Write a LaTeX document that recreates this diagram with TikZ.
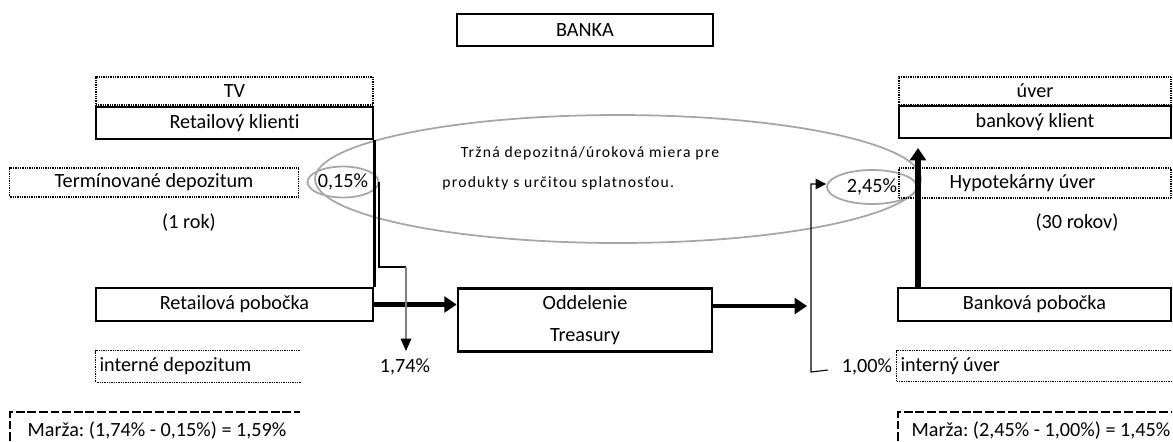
\documentclass[tikz,border=0pt]{standalone}
\usepackage{fontspec}
\setmainfont{Carlito}[Ligatures=NoCommon]
\frenchspacing
\usetikzlibrary{shapes.geometric, arrows.meta, positioning, calc}
\definecolor{ringgray}{HTML}{A6A6A6}
\definecolor{linegray}{HTML}{808080}

\tikzset{
  box/.style={draw, line width=1.6pt, minimum width=5.54cm, minimum height=0.64cm, inner sep=0pt, font=\fontsize{11.5}{11.5}\selectfont},
  dotbox/.style={draw, line width=0.7pt, dash pattern=on 0.5pt off 0.5pt, minimum width=5.54cm, minimum height=0.58cm, inner sep=0pt, font=\fontsize{11.5}{11.5}\selectfont},
  plain/.style={inner sep=0pt, font=\fontsize{11.5}{11.5}\selectfont},
  ring/.style={draw=ringgray, line width=1pt, ellipse, inner sep=0pt},
  flow/.style={line width=2.8pt, -{Triangle[length=7pt, width=9pt]}},
  thin/.style={line width=0.6pt},
  note/.style={inner sep=0pt, font=\fontsize{8.9}{8.9}\selectfont\addfontfeature{LetterSpace=8}},
}

\begin{document}
\begin{tikzpicture}[x=0.02cm, y=-0.02cm]
  \useasboundingbox (0,0) rectangle (1173,441);

  % Top: bank
  \node[box, line width=1.2pt, minimum width=5.12cm] (banka) at (585,30) {BANKA};

  % Left column: retail client side
  \node[dotbox, minimum height=0.56cm] (tv) at (234.5,91) {TV};
  \node[box] (retailklient) at (234.5,123) {Retailový klienti};
  \node[dotbox, minimum width=5.78cm] (termdep) at (154,182.5) {Termínované depozitum};
  \node[plain] (rok) at (189,222) {(1 rok)};
  \node[box, minimum height=0.66cm] (retailpob) at (234.5,304.5) {Retailová pobočka};
  \node[plain, minimum width=4.08cm, minimum height=0.62cm] (intdep) at (198,366.5) {};
  \node[plain, anchor=west] (intdeptext) at ([xshift=2pt]intdep.west) {interné depozitum};
  \draw[thin, dash pattern=on 0.5pt off 0.5pt] (intdep.north east) -- (intdep.north west) -- (intdep.south west) -- (intdep.south east);

  % Center: treasury
  \node[box, minimum width=5.08cm, minimum height=1.26cm, align=center] (treasury) at (585,320) {Oddelenie\\[7pt]Treasury};

  % Market rate ellipse
  \node[ring, minimum width=12.12cm, minimum height=2.56cm] (trh) at (618,179) {};
  \node[note] (trhtext) at (590,153) {Tržná depozitná/úroková miera pre};
  \node[note, anchor=west] (trhtext2) at (442,183) {produkty s určitou splatnosťou.};
  \node[ring, minimum width=1.08cm, minimum height=0.62cm, font=\fontsize{11.5}{11.5}\selectfont] (p015) at (343,182) {0,15\%};
  \node[ring, minimum width=1.8cm, minimum height=0.68cm, font=\fontsize{11.5}{11.5}\selectfont] (p245) at (872,187) {2,45\%};

  % Right column: loan client side
  \node[dotbox, minimum width=5.44cm, minimum height=0.56cm] (uver) at (1035,91) {úver};
  \node[box, minimum width=5.44cm] (bankklient) at (1035,122) {bankový klient};
  \node[dotbox, minimum width=5.44cm, minimum height=0.6cm] (hypo) at (1035,183) {\hspace*{-0.5cm}Hypotekárny úver};
  \node[plain] (rokov) at (1077,222) {(30 rokov)};
  \node[box, minimum width=5.46cm, minimum height=0.66cm] (bankpob) at (1034.5,304.5) {Banková pobočka};
  \node[plain, minimum width=5.48cm, minimum height=0.6cm] (intuver) at (1034,366) {};
  \node[plain, anchor=west] (intuvertext) at ([xshift=2pt]intuver.west) {interný úver};
  \draw[thin, dash pattern=on 0.5pt off 0.5pt] (intuver.north east) -- (intuver.north west) -- (intuver.south west) -- (intuver.south east);

  % Rates
  \node[plain] (r174) at (405,367) {1,74\%};
  \node[plain] (r100) at (867,367) {1,00\%};

  % Margins
  \node[plain] (marza1) at (157,430) {Marža: (1,74\% - 0,15\%) = 1,59\%};
  \draw[line width=1pt, dash pattern=on 5pt off 1.6pt] (10,441) -- (10,412) -- (300,412);
  \node[plain] (marza2) at (1041,430) {Marža: (2,45\% - 1,00\%) = 1,45\%};
  \draw[line width=1pt, dash pattern=on 5pt off 1.6pt] (898,441) -- (898,412) -- (1171,412);

  % Flows
  \draw[line width=1.6pt] (retailklient.south east) -- (retailpob.north east);
  \draw[flow] (retailpob.east) -- (retailpob.east -| treasury.west);
  \coordinate (treasout) at (807,306);
  \draw[flow] (treasury.east |- treasout) -- (treasout);
  \coordinate (upend) at (918,148);
  \draw[flow, line width=3pt] (bankpob.north -| upend) -- (upend);

  % Internal rate links
  \coordinate (dep1) at (379,182);
  \coordinate (dep2) at (379,267);
  \coordinate (dep3) at (406,267);
  \coordinate (dep4) at (406,351);
  \draw[thin] (dep1) -- (dep2) -- (dep3);
  \draw[thin, draw=linegray, -{Triangle[length=7pt, width=6pt, color=black]}] (dep3) -- (dep4);
  \coordinate (uv1) at (828,370);
  \coordinate (uv2) at (811,372);
  \coordinate (uv3) at (811,184);
  \draw[thin, -{Triangle[length=6pt, width=6pt]}] (uv1) -- (uv2) -- (uv3) -- (uv3 -| p245.west);
\end{tikzpicture}
\end{document}
